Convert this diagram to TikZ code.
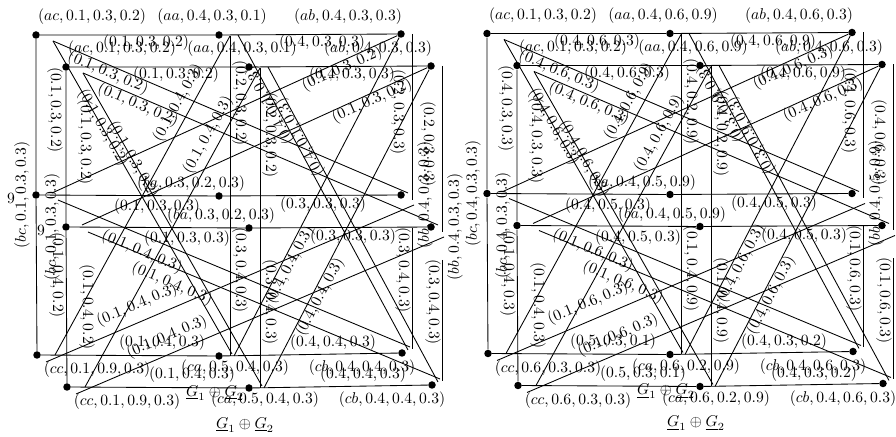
\documentclass[tikz,border=0pt]{standalone}
\begin{document}
\tikzset{
  vdot/.style={circle,fill=black,inner sep=0pt,minimum size=4.8pt},
  edgeline/.style={line width=0.55pt},
  lab/.style={inner sep=0pt},
}
\newcommand{\Gcopy}[4]{%
\begin{scope}[shift={(#2,#3)}]
\node[vdot] (#1ac) at (36,35) {};
\node[vdot] (#1aa) at (219,35) {};
\node[vdot] (#1ab) at (401,34) {};
\node[vdot] (#1bc) at (36,195) {};
\node[vdot] (#1ba) at (219,196) {};
\node[vdot] (#1bb) at (401,195) {};
\node[vdot] (#1cc) at (37,355) {};
\node[vdot] (#1ca) at (219,356) {};
\node[vdot] (#1cb) at (402,353) {};
\coordinate (#1mT) at (230,36);
\coordinate (#1mB) at (230,356);
\coordinate (#1rT) at (412,34);
\coordinate (#1rU) at (412,200);
\coordinate (#1rL) at (412,228);
\coordinate (#1rB) at (412,349);
\coordinate (#1acE) at (53,41);
\coordinate (#1bbA) at (408,193);
\coordinate (#1caA) at (232,354);
\coordinate (#1bcA) at (52,193);
\coordinate (#1caB) at (234,356);
\coordinate (#1ccA) at (55,355);
\coordinate (#1aaF) at (238,35);
\coordinate (#1cbA) at (408,350);
\coordinate (#1bcB) at (58,200);
\coordinate (#1cbB) at (410,347);
\coordinate (#1bbB) at (414,205);
\coordinate (#1ccB) at (46,362);
% grid edges
\draw[edgeline] (#1ac) -- (#1aa) -- (#1ab);
\draw[edgeline] (#1bc) -- (#1ba) -- (#1bb);
\draw[edgeline] (#1cc) -- (#1ca) -- (#1cb);
\draw[edgeline] (#1ac) -- (#1bc) -- (#1cc);
\draw[edgeline] (#1mT) -- (#1mB);
\draw[edgeline] (#1rT) -- (#1rU);
\draw[edgeline] (#1rL) -- (#1rB);
% diagonal edges
\draw[edgeline] (#1acE) -- (#1bbA);
\draw[edgeline] (#1acE) -- (#1caA);
\draw[edgeline] (#1ab) -- (#1bcA);
\draw[edgeline] (#1ab) -- (#1caB);
\draw[edgeline] (#1mT) -- (#1ccA);
\draw[edgeline] (#1aaF) -- (#1cbA);
\draw[edgeline] (#1bcB) -- (#1cbB);
\draw[edgeline] (#1bbB) -- (#1ccB);
% vertex labels
\node[lab] (#1Lac) at (92,17) {$\myVac$};
\node[lab] (#1Laa) at (212,17) {$\myVaa$};
\node[lab] (#1Lab) at (348,17) {$\myVab$};
\node[lab,rotate=90] (#1Lbc) at (22,195) {$\myVbc$};
\node[lab] (#1Lba) at (191,184) {$\myVba$};
\node[lab,rotate=90] (#1Lbb) at (425,195) {$\myVbb$};
\node[lab] (#1Lcc) at (97,370) {$\myVcc$};
\node[lab] (#1Lca) at (235,368) {$\myVca$};
\node[lab] (#1Lcb) at (362,368) {$\myVcb$};
\node[lab] (#1title) at (215,393) {$\underline{G}_1\oplus\underline{G}_2$};
% edge labels
\node[lab] (#1e1) at (146,43) {$\myEa$};
\node[lab] (#1e2) at (322,43) {$\myEb$};
\node[lab] (#1e3) at (157,207) {$\myEc$};
\node[lab] (#1e4) at (323,205) {$\myEd$};
\node[lab] (#1e5) at (162,343) {$\myEe$};
\node[lab] (#1e6) at (333,343) {$\myEf$};
\node[lab,rotate=-90] (#1e7) at (55,110) {$\myEg$};
\node[lab,rotate=-90] (#1e8) at (57,275) {$\myEh$};
\node[lab,rotate=-90] (#1e9) at (240,103) {$\myEi$};
\node[lab,rotate=-90] (#1e10) at (240,270) {$\myEj$};
\node[lab,rotate=-90] (#1e11) at (398,112) {$\myEk$};
\node[lab,rotate=-90] (#1e12) at (403,270) {$\myEl$};
\node[lab,rotate=-23] (#1e13) at (108,73) {$\myEm$};
\node[lab,rotate=-60] (#1e14) at (103,128) {$\myEn$};
\node[lab,rotate=24] (#1e15) at (342,69) {$\myEo$};
\node[lab,rotate=62] (#1e16) at (290,265) {$\myEp$};
\node[lab,rotate=61] (#1e17) at (178,103) {$\myEq$};
\node[lab,rotate=118] (#1e18) at (270,105) {$\myEr$};
\node[lab,rotate=-23] (#1e19) at (142,252) {$\myEs$};
\node[lab,rotate=23] (#1e20) at (137,305) {$\myEt$};
#4
\end{scope}}
\begin{tikzpicture}[x=0.64pt,y=-0.64pt]
\useasboundingbox (0,0) rectangle (896,437);
% ---------- left panel ----------
\def\myVac{(ac,0.1,0.3,0.2)}\def\myVaa{(aa,0.4,0.3,0.1)}\def\myVab{(ab,0.4,0.3,0.3)}
\def\myVbc{(bc,0.1,0.3,0.3)}\def\myVba{(ba,0.3,0.2,0.3)}\def\myVbb{(bb,0.4,0.3,0.3)}
\def\myVcc{(cc,0.1,0.9,0.3)}\def\myVca{(ca,0.5,0.4,0.3)}\def\myVcb{(cb,0.4,0.4,0.3)}
\def\myEa{(0.1,0.3,0.2)}\def\myEb{(0.4,0.3,0.3)}\def\myEc{(0.1,0.3,0.3)}
\def\myEd{(0.3,0.3,0.3)}\def\myEe{(0.1,0.4,0.3)}\def\myEf{(0.4,0.4,0.3)}
\def\myEg{(0.1,0.3,0.2)}\def\myEh{(0.1,0.4,0.2)}\def\myEi{(0.2,0.3,0.2)}
\def\myEj{(0.3,0.4,0.3)}\def\myEk{(0.2,0.3,0.3)}\def\myEl{(0.3,0.4,0.3)}
\def\myEm{(0.1,0.3,0.2)}\def\myEn{(0.1,0.3,0.2)}\def\myEo{(0.1,0.3,0.2)}
\def\myEp{(0.4,0.4,0.3)}\def\myEq{(0.1,0.4,0.3)}\def\myEr{(0.4,0.1,0.3)}
\def\myEs{(0.1,0.4,0.3)}\def\myEt{(0.1,0.4,0.3)}
\Gcopy{La}{0}{0}{\node[lab] (La9) at (11,198) {$9$};}
\Gcopy{Lb}{30}{32}{\node[lab] (Lb9) at (11,198) {$9$};}
% ---------- right panel ----------
\def\myVac{(ac,0.1,0.3,0.2)}\def\myVaa{(aa,0.4,0.6,0.9)}\def\myVab{(ab,0.4,0.6,0.3)}
\def\myVbc{(bc,0.4,0.3,0.3)}\def\myVba{(ba,0.4,0.5,0.9)}\def\myVbb{(bb,0.4,0.5,0.9)}
\def\myVcc{(cc,0.6,0.3,0.3)}\def\myVca{(ca,0.6,0.2,0.9)}\def\myVcb{(cb,0.4,0.6,0.3)}
\def\myEa{(0.4,0.6,0.3)}\def\myEb{(0.4,0.6,0.9)}\def\myEc{(0.4,0.5,0.3)}
\def\myEd{(0.4,0.5,0.3)}\def\myEe{(0.5,0.3,0.1)}\def\myEf{(0.4,0.3,0.2)}
\def\myEg{(0.4,0.3,0.3)}\def\myEh{(0.1,0.4,0.3)}\def\myEi{(0.4,0.2,0.9)}
\def\myEj{(0.1,0.4,0.9)}\def\myEk{(0.4,0.6,0.3)}\def\myEl{(0.1,0.6,0.3)}
\def\myEm{(0.4,0.6,0.3)}\def\myEn{(0.4,0.6,0.3)}\def\myEo{(0.4,0.6,0.3)}
\def\myEp{(0.4,0.6,0.3)}\def\myEq{(0.4,0.6,0.9)}\def\myEr{(0.3,0.9,0.3)}
\def\myEs{(0.1,0.6,0.3)}\def\myEt{(0.1,0.6,0.3)}
\Gcopy{Ra}{451}{-1.5}{}
\Gcopy{Rb}{481}{30.5}{}
\end{tikzpicture}
\end{document}
